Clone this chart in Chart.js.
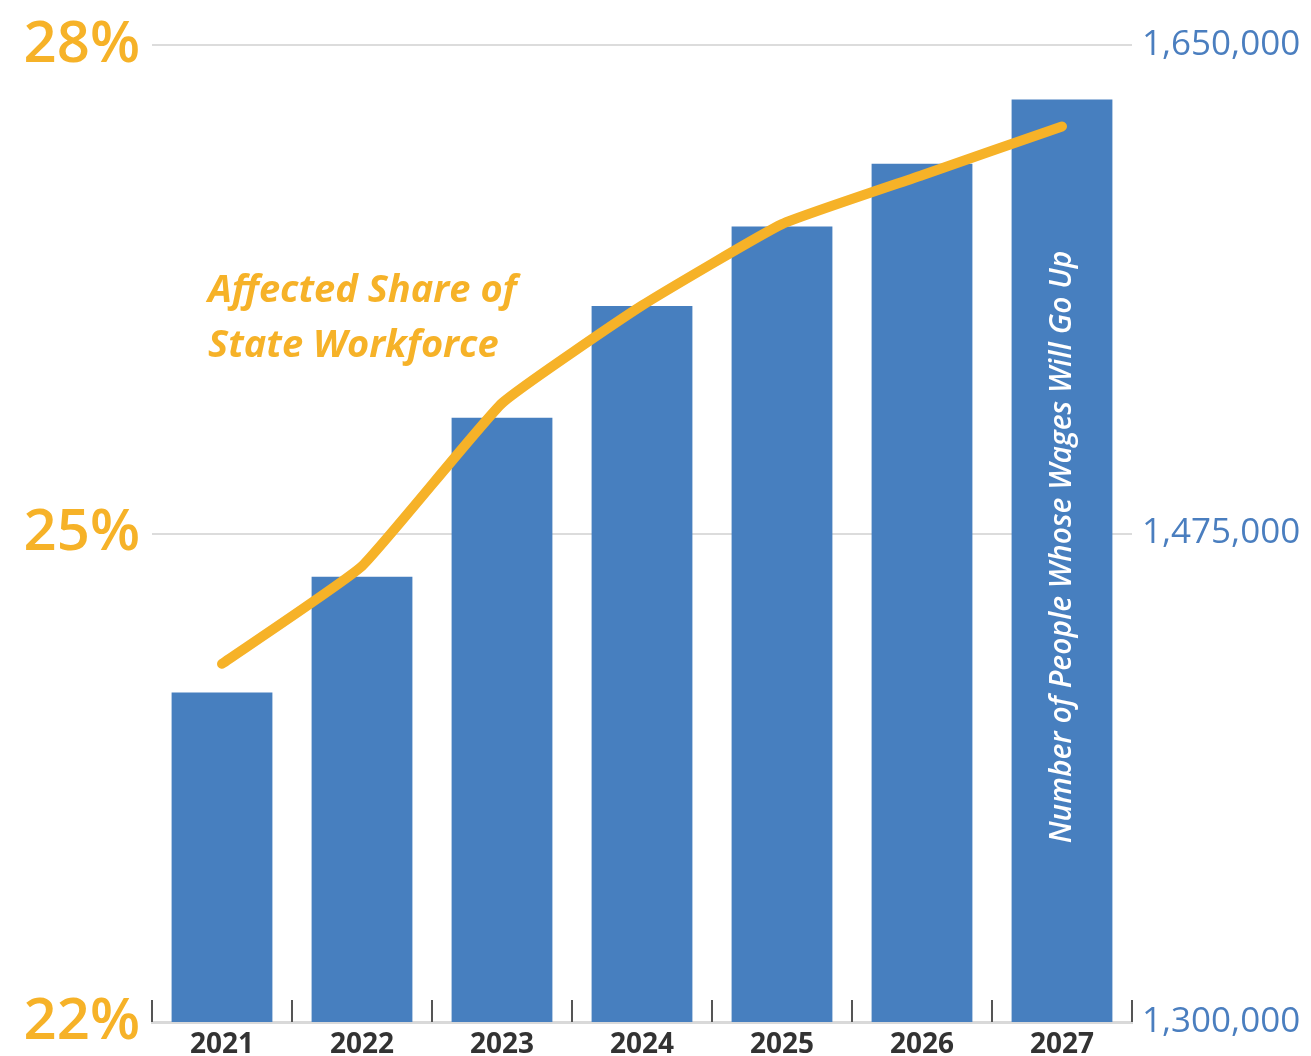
<!DOCTYPE html>
<html>
<head>
<meta charset="utf-8">
<script src="https://cdn.jsdelivr.net/npm/chart.js@4.4.1/dist/chart.umd.min.js"></script>
<style>
    html, body { margin: 0; padding: 0; background: #fff; overflow: hidden; }
    canvas { display: block; }
</style>
</head>
<body>
<canvas id="chartSalario" width="1311" height="1056"></canvas>
<script>
var years = ['2021', '2022', '2023', '2024', '2025', '2026', '2027'];
var workers = [1418000, 1459500, 1516500, 1556500, 1585000, 1607500, 1630500];
var sharePct = [24.2, 24.8, 25.8, 26.4, 26.9, 27.2, 27.5];
var shareTicks = [22, 25, 28];
var workerTicks = [1300000, 1475000, 1650000];

(function () {
    var orange = '#F6B228';
    var blue = '#477FBF';
    var fmtNum = function (v) { return Number(v).toLocaleString('en-US'); };

    // marcas de division entre categorias y textos sueltos
    var extras = {
        id: 'extras',
        afterDatasetsDraw: function (chart) {
            var ctx = chart.ctx;
            var x = chart.scales.x;
            var area = chart.chartArea;
            var n = years.length;
            var step = (x.right - x.left) / n;
            ctx.save();
            ctx.strokeStyle = '#555';
            ctx.lineWidth = 2;
            for (var i = 0; i <= n; i++) {
                var px = Math.round(x.getPixelForValue(0) - step / 2 + i * step);
                ctx.beginPath();
                ctx.moveTo(px, area.bottom - 22);
                ctx.lineTo(px, area.bottom);
                ctx.stroke();
            }

            ctx.fillStyle = orange;
            ctx.font = 'italic bold 38px "Open Sans"';
            ctx.textAlign = 'left';
            ctx.textBaseline = 'alphabetic';
            ctx.fillText('Affected Share of', 208, 302);
            ctx.fillText('State Workforce', 208, 357);

            var cx = x.getPixelForValue(n - 1);
            ctx.translate(cx, 547);
            ctx.rotate(-Math.PI / 2);
            ctx.fillStyle = '#fff';
            ctx.font = 'italic 600 30px "Open Sans"';
            ctx.textAlign = 'center';
            ctx.textBaseline = 'middle';
            ctx.fillText('Number of People Whose Wages Will Go Up', 0, 0);
            ctx.restore();
        }
    };

    // sin relleno extra por las etiquetas de los ejes verticales
    var fitY = function (w) {
        return function (s) { s.width = w; s.paddingTop = 0; s.paddingBottom = 0; };
    };

    new Chart(document.getElementById('chartSalario'), {
        type: 'bar',
        data: {
            labels: years,
            datasets: [
                {
                    label: 'Affected Share of State Workforce',
                    type: 'line',
                    data: sharePct,
                    borderColor: orange,
                    borderWidth: 10,
                    borderCapStyle: 'round',
                    borderJoinStyle: 'round',
                    pointRadius: 0,
                    tension: 0.12,
                    fill: false,
                    yAxisID: 'y',
                    order: 0
                },
                {
                    label: 'Number of People Whose Wages Will Go Up',
                    data: workers,
                    backgroundColor: blue,
                    borderWidth: 0,
                    barPercentage: 0.72,
                    categoryPercentage: 1,
                    yAxisID: 'y2',
                    order: 1
                }
            ]
        },
        options: {
            responsive: false,
            animation: false,
            devicePixelRatio: 1,
            layout: { padding: { top: 45, left: 0, right: 0, bottom: 0 } },
            plugins: {
                legend: { display: false },
                tooltip: { enabled: false }
            },
            scales: {
                x: {
                    grid: { display: false, drawTicks: false },
                    border: { display: true, color: '#d9d9d9', width: 3 },
                    ticks: {
                        color: '#333',
                        padding: 6,
                        font: { family: 'Open Sans', size: 28, weight: 'bold' }
                    },
                    afterFit: function (s) { s.height = 34; s.paddingLeft = 0; s.paddingRight = 0; }
                },
                y: {
                    type: 'linear',
                    position: 'left',
                    min: 22,
                    max: 28,
                    afterBuildTicks: function (s) { s.ticks = shareTicks.map(function (v) { return { value: v }; }); },
                    ticks: {
                        color: orange,
                        padding: 12,
                        font: { family: 'Open Sans', size: 58, weight: '600' },
                        callback: function (v) { return v + '%'; }
                    },
                    grid: { color: '#dcdcdc', lineWidth: 2, drawTicks: false },
                    border: { display: false },
                    afterFit: fitY(152)
                },
                y2: {
                    type: 'linear',
                    position: 'right',
                    min: 1300000,
                    max: 1650000,
                    afterBuildTicks: function (s) { s.ticks = workerTicks.map(function (v) { return { value: v }; }); },
                    ticks: {
                        color: '#4A7EBF',
                        padding: 10,
                        font: { family: 'Open Sans', size: 35 },
                        callback: function (v) { return fmtNum(v); }
                    },
                    grid: { display: false, drawTicks: false },
                    border: { display: false },
                    afterFit: fitY(179)
                }
            }
        },
        plugins: [extras]
    });
})();
</script>
</body>
</html>
